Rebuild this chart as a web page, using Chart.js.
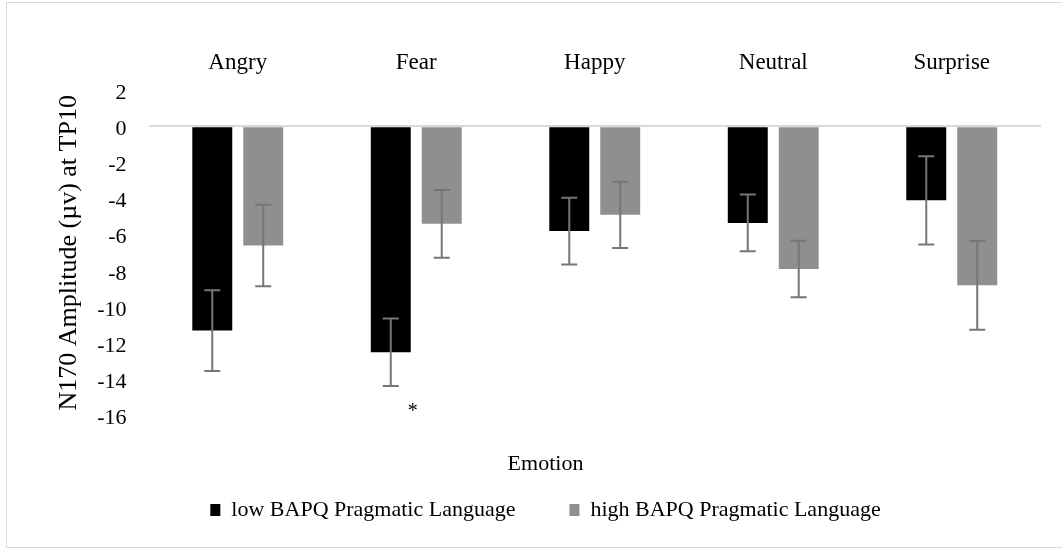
<!DOCTYPE html>
<html>
<head>
<meta charset="utf-8">
<script src="https://cdn.jsdelivr.net/npm/chart.js@4"></script>
<style>
  html, body { margin: 0; padding: 0; background: #fff; }
  #wrap { width: 1062px; height: 550px; }
</style>
</head>
<body>
<div id="wrap"><canvas id="n170Chart" width="1062" height="550"></canvas></div>
<script>
// values (µv)
var emotions = ['Angry', 'Fear', 'Happy', 'Neutral', 'Surprise'];
var lowMeans = [-11.3, -12.5, -5.8, -5.35, -4.1];
var lowErr = [2.23, 1.87, 1.84, 1.57, 2.44];
var highMeans = [-6.6, -5.4, -4.9, -7.9, -8.8];
var highErr = [2.25, 1.87, 1.83, 1.56, 2.45];
var yTicks = [2, 0, -2, -4, -6, -8, -10, -12, -14, -16];
// significance marker under the low group in Fear
var sigCategory = 'Fear';
var sigDataset = 0;
var sigValue = -15.8;

Chart.defaults.font.family = "'Liberation Serif', 'Times New Roman', serif";
Chart.defaults.color = '#000';

var ctx = document.getElementById("n170Chart").getContext("2d");

var errorBars = {
  id: 'errorBars',
  afterDatasetsDraw: function(chart) {
    var c = chart.ctx;
    var yScale = chart.scales.y;
    c.save();
    c.strokeStyle = '#767676';
    c.lineWidth = 2;
    chart.data.datasets.forEach(function(ds, di) {
      var meta = chart.getDatasetMeta(di);
      meta.data.forEach(function(bar, i) {
        var m = ds.data[i], e = ds.errors[i];
        var yTop = yScale.getPixelForValue(m + e);
        var yBot = yScale.getPixelForValue(m - e);
        c.beginPath();
        c.moveTo(bar.x, yTop); c.lineTo(bar.x, yBot);
        c.moveTo(bar.x - 8, yTop); c.lineTo(bar.x + 8, yTop);
        c.moveTo(bar.x - 8, yBot); c.lineTo(bar.x + 8, yBot);
        c.stroke();
      });
    });
    // asterisk
    var idx = emotions.indexOf(sigCategory);
    var el = chart.getDatasetMeta(sigDataset).data[idx];
    c.fillStyle = '#000';
    c.font = "20px 'Liberation Serif'";
    c.textAlign = 'center';
    c.textBaseline = 'middle';
    c.fillText('*', el.x + el.width / 2 + 2, yScale.getPixelForValue(sigValue));
    // chart frame
    c.strokeStyle = '#d9d9d9';
    c.lineWidth = 1;
    c.strokeRect(6.5, 2.5, chart.width + 10, 545);
    c.restore();
  }
};

var settings = {
  type: 'bar',
  data: {
    labels: emotions,
    datasets: [{
      label: 'low BAPQ Pragmatic Language',
      data: lowMeans,
      errors: lowErr,
      backgroundColor: '#000000',
      categoryPercentage: 0.571,
      barPercentage: 0.784
    }, {
      label: 'high BAPQ Pragmatic Language',
      data: highMeans,
      errors: highErr,
      backgroundColor: '#8f8f8f',
      categoryPercentage: 0.571,
      barPercentage: 0.784
    }]
  },
  options: {
    responsive: false,
    animation: false,
    layout: { padding: { left: 50, right: 21, top: 0, bottom: 19 } },
    plugins: {
      tooltip: { enabled: false },
      legend: {
        position: 'bottom',
        labels: {
          boxWidth: 10,
          boxHeight: 12,
          padding: 10,
          font: { size: 22 },
          generateLabels: function(chart) {
            var items = Chart.defaults.plugins.legend.labels.generateLabels(chart);
            // wider gap between the two entries, as in the figure
            items[0].text = items[0].text + '\u2003\u2003';
            return items;
          }
        },
        title: {
          display: true,
          text: 'Emotion',
          padding: { top: 38, bottom: 9 },
          font: { size: 22 }
        }
      }
    },
    scales: {
      x: {
        position: 'top',
        grid: { display: false },
        border: { display: false },
        ticks: { padding: 5, font: { size: 23 } },
        afterFit: function(scale) { scale.height = 90; }
      },
      y: {
        min: -16,
        max: 2,
        afterBuildTicks: function(scale) {
          scale.ticks = yTicks.map(function(v) { return { value: v }; });
        },
        border: { display: false },
        grid: {
          drawTicks: false,
          lineWidth: 2,
          color: function(c) { return c.tick && c.tick.value === 0 ? '#d9d9d9' : 'rgba(0,0,0,0)'; }
        },
        ticks: { padding: 22, labelOffset: 3, font: { size: 22 } },
        title: {
          display: true,
          text: 'N170 Amplitude (µv) at TP10',
          font: { size: 26 },
          padding: { top: 4, bottom: 0 }
        },
        afterFit: function(scale) { scale.width = 98.5; }
      }
    }
  },
  plugins: [errorBars]
};

var n170Chart = new Chart(ctx, settings);
</script>
</body>
</html>
